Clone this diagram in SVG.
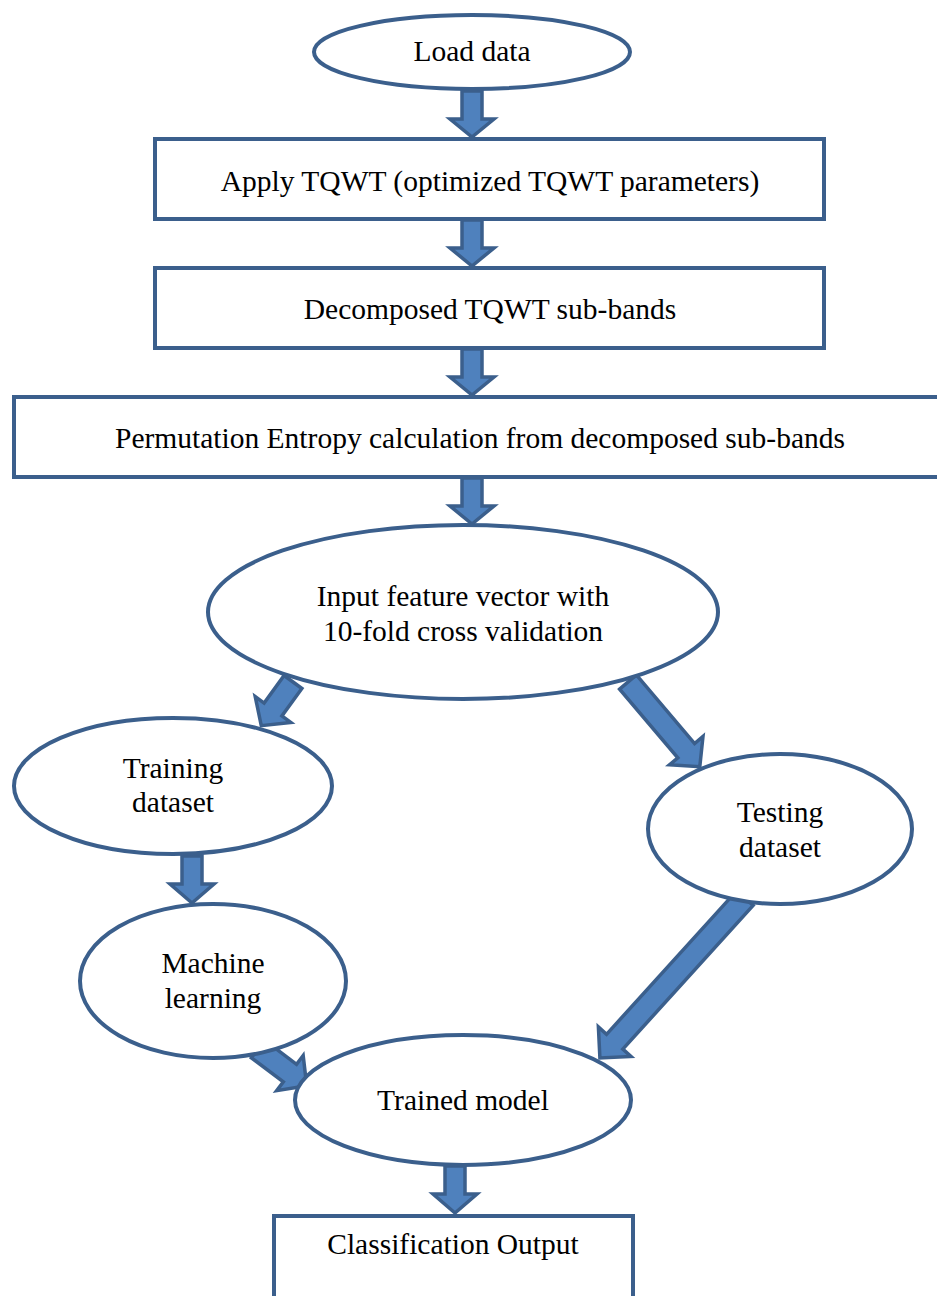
<svg xmlns="http://www.w3.org/2000/svg" width="937" height="1296" viewBox="0 0 937 1296">
<style>
.n{fill:#fff;stroke:#3B5F8C;stroke-width:4}
.a{fill:#4F81BD;stroke:#3B5F8C;stroke-width:3.5;stroke-linejoin:miter}
text{font-family:"Liberation Serif","Times New Roman",serif;font-size:29.5px;fill:#000;text-anchor:middle}
</style>
<rect width="937" height="1296" fill="#fff"/>
<g id="connectors">
<path class="a" transform="translate(472,91)" d="M-10,0H10V28H22L0,46L-22,28H-10Z"/>
<path class="a" transform="translate(472,220)" d="M-10,0H10V28H22L0,46L-22,28H-10Z"/>
<path class="a" transform="translate(472,349)" d="M-10,0H10V28H22L0,46L-22,28H-10Z"/>
<path class="a" transform="translate(472,478)" d="M-10,0H10V28H22L0,46L-22,28H-10Z"/>
<path class="a" transform="translate(293,682) rotate(36)" d="M-11,0H11V34H22L0,54L-22,34H-11Z"/>
<path class="a" transform="translate(628,682) rotate(-40.3)" d="M-11,0H11V90H22L0,111L-22,90H-11Z"/>
<path class="a" transform="translate(192,856) rotate(0)" d="M-10,0H10V28H22L0,47L-22,28H-10Z"/>
<path class="a" transform="translate(258,1049) rotate(-53)" d="M-11,0H11V40H22L0,61L-22,40H-11Z"/>
<path class="a" transform="translate(745,898) rotate(42.2)" d="M-11,0H11V194H22L0,216L-22,194H-11Z"/>
<path class="a" transform="translate(455,1166)" d="M-10,0H10V28H22L0,47L-22,28H-10Z"/>
</g>
<g id="load"><ellipse class="n" cx="472" cy="52" rx="158" ry="37"/><text x="472" y="61">Load data</text></g>
<g id="tqwt"><rect class="n" x="155" y="139" width="669" height="80"/><text x="490" y="191">Apply TQWT (optimized TQWT parameters)</text></g>
<g id="decomp"><rect class="n" x="155" y="268" width="669" height="80"/><text x="490" y="319">Decomposed TQWT sub-bands</text></g>
<g id="perm"><rect class="n" x="14" y="397" width="930" height="80"/><text x="480" y="448">Permutation Entropy calculation from decomposed sub-bands</text></g>
<g id="input"><ellipse class="n" cx="463" cy="612" rx="255" ry="87"/><text x="463" y="606">Input feature vector with</text><text x="463" y="641">10-fold cross validation</text></g>
<g id="training"><ellipse class="n" cx="173" cy="786" rx="159" ry="68"/><text x="173" y="778">Training</text><text x="173" y="812">dataset</text></g>
<g id="testing"><ellipse class="n" cx="780" cy="829" rx="132" ry="75"/><text x="780" y="822">Testing</text><text x="780" y="857">dataset</text></g>
<g id="ml"><ellipse class="n" cx="213" cy="981" rx="133" ry="77"/><text x="213" y="973">Machine</text><text x="213" y="1008">learning</text></g>
<g id="trained"><ellipse class="n" cx="463" cy="1100" rx="168" ry="65"/><text x="463" y="1110">Trained model</text></g>
<g id="output"><rect class="n" x="274" y="1216" width="359" height="90"/><text x="453" y="1254">Classification Output</text></g>
</svg>
